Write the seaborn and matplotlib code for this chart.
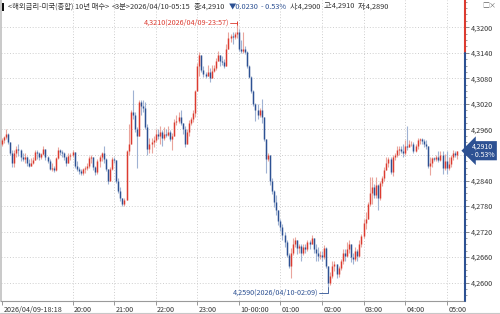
import numpy as np
import pandas as pd
import matplotlib
matplotlib.use("Agg")
import matplotlib.pyplot as plt
import matplotlib.transforms as mtransforms
from matplotlib.ticker import FixedLocator, MultipleLocator, FuncFormatter
from matplotlib.patches import Rectangle
from matplotlib.lines import Line2D
import seaborn as sns

# ---------------- data (3-minute bars, 2026/04/09 18:18 -> 2026/04/10 05:15) ----------------
first_open = 4.2925
prev_close = 4.3140

close = [
    4.2935, 4.2942, 4.2950, 4.2930, 4.2905, 4.2880, 4.2905, 4.2915, 4.2912, 4.2895,
    4.2890, 4.2895, 4.2880, 4.2875, 4.2880, 4.2888, 4.2908, 4.2905, 4.2895, 4.2902,
    4.2915, 4.2895, 4.2885, 4.2868, 4.2870, 4.2865, 4.2892, 4.2912, 4.2908, 4.2905,
    4.2895, 4.2880, 4.2898, 4.2900, 4.2908, 4.2875, 4.2868, 4.2862, 4.2858, 4.2866,
    4.2870, 4.2875, 4.2893, 4.2895, 4.2872, 4.2860, 4.2885, 4.2895, 4.2905, 4.2890,
    4.2868, 4.2840, 4.2868, 4.2890, 4.2888, 4.2840, 4.2815, 4.2800,
    4.2785, 4.2795, 4.2910, 4.2925, 4.3000, 4.2995, 4.2960, 4.2945, 4.3025, 4.3015,
    4.3010, 4.2965, 4.2915, 4.2925, 4.2930, 4.2935, 4.2950, 4.2945, 4.2955, 4.2940,
    4.2950, 4.2948, 4.2955, 4.2938, 4.2945, 4.2978, 4.2980, 4.2990, 4.2975, 4.2960,
    4.2925, 4.2955, 4.2975, 4.2985, 4.2998, 4.3050, 4.3110, 4.3135, 4.3100, 4.3090,
    4.3085, 4.3095, 4.3080, 4.3098, 4.3105, 4.3120, 4.3135, 4.3120, 4.3118, 4.3110,
    4.3150, 4.3175, 4.3180, 4.3178, 4.3185,
    4.3190, 4.3150, 4.3145, 4.3150, 4.3142, 4.3110, 4.3083, 4.3050, 4.3020, 4.3005,
    4.2995, 4.3005, 4.2990, 4.2938, 4.2890, 4.2900, 4.2840, 4.2815, 4.2790, 4.2770,
    4.2745, 4.2730, 4.2712, 4.2695, 4.2665, 4.2640, 4.2670, 4.2690, 4.2700, 4.2682,
    4.2686, 4.2670, 4.2685, 4.2680, 4.2695, 4.2692, 4.2705, 4.2680, 4.2670, 4.2662,
    4.2665, 4.2660, 4.2682, 4.2640, 4.2600, 4.2615, 4.2640, 4.2645, 4.2620, 4.2635,
    4.2650, 4.2670, 4.2662, 4.2680, 4.2690,
    4.2660, 4.2655, 4.2675, 4.2662, 4.2690, 4.2710, 4.2740, 4.2750, 4.2785, 4.2810,
    4.2825, 4.2805, 4.2830, 4.2800, 4.2835, 4.2845, 4.2865, 4.2880, 4.2890, 4.2860,
    4.2895, 4.2900, 4.2912, 4.2915, 4.2910, 4.2905, 4.2920, 4.2918, 4.2925, 4.2925,
    4.2910, 4.2920, 4.2935, 4.2938, 4.2932, 4.2925, 4.2920, 4.2875, 4.2880, 4.2892,
    4.2890, 4.2895, 4.2888, 4.2900, 4.2870, 4.2885, 4.2870, 4.2878, 4.2895, 4.2905,
    4.2900, 4.2910,
]

high = [
    4.2940, 4.2945, 4.2960, 4.2952, 4.2930, 4.2912, 4.2912, 4.2920, 4.2925, 4.2915,
    4.2905, 4.2905, 4.2898, 4.2890, 4.2892, 4.2895, 4.2912, 4.2912, 4.2908, 4.2905,
    4.2920, 4.2915, 4.2898, 4.2890, 4.2880, 4.2875, 4.2895, 4.2918, 4.2915, 4.2912,
    4.2908, 4.2898, 4.2905, 4.2905, 4.2912, 4.2908, 4.2885, 4.2872, 4.2868, 4.2870,
    4.2875, 4.2882, 4.2898, 4.2900, 4.2895, 4.2875, 4.2890, 4.2900, 4.2908, 4.2920,
    4.2892, 4.2868, 4.2872, 4.2895, 4.2895, 4.2880, 4.2845, 4.2825,
    4.2800, 4.2800, 4.2912, 4.2973, 4.3005, 4.3052, 4.3000, 4.2965, 4.3030, 4.3028,
    4.3028, 4.3025, 4.2972, 4.2940, 4.2940, 4.2945, 4.2962, 4.2962, 4.2968, 4.2958,
    4.2965, 4.2962, 4.2968, 4.2958, 4.2952, 4.2985, 4.2995, 4.3000, 4.3005, 4.2975,
    4.2968, 4.2960, 4.2982, 4.2990, 4.3005, 4.3052, 4.3115, 4.3142, 4.3135, 4.3110,
    4.3095, 4.3112, 4.3105, 4.3112, 4.3112, 4.3128, 4.3145, 4.3132, 4.3132, 4.3125,
    4.3160, 4.3188, 4.3185, 4.3188, 4.3190,
    4.3210, 4.3195, 4.3170, 4.3190, 4.3155, 4.3145, 4.3112, 4.3085, 4.3052, 4.3022,
    4.3020, 4.3010, 4.3032, 4.2985, 4.2915, 4.2905, 4.2900, 4.2845, 4.2818, 4.2805,
    4.2770, 4.2750, 4.2738, 4.2720, 4.2700, 4.2670, 4.2682, 4.2706, 4.2708, 4.2700,
    4.2692, 4.2690, 4.2692, 4.2690, 4.2700, 4.2700, 4.2712, 4.2705, 4.2690, 4.2685,
    4.2675, 4.2675, 4.2688, 4.2685, 4.2640, 4.2625, 4.2650, 4.2652, 4.2645, 4.2640,
    4.2655, 4.2680, 4.2680, 4.2695, 4.2700,
    4.2690, 4.2670, 4.2685, 4.2680, 4.2700, 4.2715, 4.2750, 4.2765, 4.2790, 4.2848,
    4.2848, 4.2832, 4.2848, 4.2832, 4.2840, 4.2850, 4.2872, 4.2895, 4.2895, 4.2895,
    4.2900, 4.2905, 4.2920, 4.2920, 4.2920, 4.2925, 4.2934, 4.2969, 4.2935, 4.2932,
    4.2930, 4.2925, 4.2940, 4.2940, 4.2940, 4.2938, 4.2935, 4.2920, 4.2895, 4.2895,
    4.2895, 4.2900, 4.2910, 4.2910, 4.2910, 4.2902, 4.2910, 4.2895, 4.2900, 4.2912,
    4.2910, 4.2910,
]

low = [
    4.2920, 4.2928, 4.2938, 4.2925, 4.2900, 4.2872, 4.2872, 4.2895, 4.2898, 4.2885,
    4.2885, 4.2880, 4.2875, 4.2872, 4.2875, 4.2878, 4.2888, 4.2890, 4.2888, 4.2890,
    4.2900, 4.2888, 4.2880, 4.2864, 4.2862, 4.2860, 4.2862, 4.2890, 4.2900, 4.2895,
    4.2888, 4.2875, 4.2880, 4.2888, 4.2895, 4.2870, 4.2862, 4.2855, 4.2853, 4.2852,
    4.2858, 4.2865, 4.2870, 4.2880, 4.2865, 4.2853, 4.2856, 4.2872, 4.2885, 4.2882,
    4.2862, 4.2832, 4.2840, 4.2865, 4.2880, 4.2835, 4.2810, 4.2792,
    4.2780, 4.2779, 4.2795, 4.2900, 4.2955, 4.2985, 4.2955, 4.2870, 4.2950, 4.2995,
    4.3000, 4.2960, 4.2900, 4.2905, 4.2905, 4.2918, 4.2930, 4.2938, 4.2925, 4.2920,
    4.2935, 4.2942, 4.2945, 4.2932, 4.2912, 4.2945, 4.2970, 4.2975, 4.2970, 4.2950,
    4.2918, 4.2925, 4.2945, 4.2970, 4.2978, 4.2990, 4.3060, 4.3085, 4.3095, 4.3082,
    4.3080, 4.3090, 4.3071, 4.3085, 4.3095, 4.3100, 4.3120, 4.3110, 4.3112, 4.3105,
    4.3125, 4.3150, 4.3165, 4.3160, 4.3172,
    4.3175, 4.3145, 4.3140, 4.3140, 4.3138, 4.3105, 4.3080, 4.3045, 4.3015, 4.2980,
    4.2985, 4.2990, 4.2975, 4.2932, 4.2858, 4.2885, 4.2830, 4.2808, 4.2778, 4.2760,
    4.2735, 4.2722, 4.2700, 4.2685, 4.2660, 4.2635, 4.2612, 4.2665, 4.2685, 4.2668,
    4.2670, 4.2652, 4.2665, 4.2670, 4.2675, 4.2680, 4.2690, 4.2670, 4.2650, 4.2652,
    4.2655, 4.2652, 4.2655, 4.2635, 4.2590, 4.2595, 4.2610, 4.2628, 4.2612, 4.2613,
    4.2630, 4.2645, 4.2650, 4.2660, 4.2670,
    4.2648, 4.2645, 4.2650, 4.2652, 4.2660, 4.2685, 4.2705, 4.2725, 4.2750, 4.2780,
    4.2785, 4.2800, 4.2800, 4.2770, 4.2795, 4.2828, 4.2840, 4.2865, 4.2872, 4.2856,
    4.2850, 4.2888, 4.2895, 4.2900, 4.2905, 4.2895, 4.2900, 4.2912, 4.2918, 4.2920,
    4.2905, 4.2908, 4.2915, 4.2925, 4.2925, 4.2918, 4.2915, 4.2870, 4.2852, 4.2872,
    4.2885, 4.2885, 4.2883, 4.2885, 4.2856, 4.2865, 4.2856, 4.2865, 4.2872, 4.2888,
    4.2895, 4.2890,
]

x_tick_bars = [0, 34, 54, 74, 94, 114, 134, 154, 174, 194, 214]
x_tick_labels = ["2026/04/09-18:18", "20:00", "21:00", "22:00", "23:00", "10-00:00",
                 "01:00", "02:00", "03:00", "04:00", "05:00"]
y_ticks = [4.2600, 4.2660, 4.2720, 4.2780, 4.2840, 4.2900, 4.2960, 4.3020, 4.3080, 4.3140, 4.3200]

hi_bar, hi_val, hi_text = 113, 4.3210, "4,3210(2026/04/09-23:57)"
lo_bar, lo_val, lo_text = 157, 4.2590, "4,2590(2026/04/10-02:09)"
last_val = 4.2910
last_label = "4,2910\n- 0.53%"

title_parts = [
    ("<해외금리-미국(종합) 10년 매수>", "dark"),
    ("<3분>2026/04/10-05:15", "dark"),
    ("종:4,2910", "dark"),
    ("▼0.0230", "blue"),
    ("- 0.53%", "blue"),
    ("시:4,2900", "dark"),
    ("고:4,2910", "dark"),
    ("저:4,2890", "dark"),
]

# ---------------- styling ----------------
sns.set_theme(style="white")
plt.rcParams['font.family'] = ['Noto Sans CJK KR', 'DejaVu Sans']

RED = "#dc3b30"
BLUE = "#2d5193"
RED_W = "#eaa59d"
BLUE_W = "#9fb2d3"
GRID = "#c8c8c8"
TXT = "#333333"

df = pd.DataFrame({"close": close, "high": high, "low": low})
df["open"] = df["close"].shift(1).fillna(first_open)
df["bar"] = np.arange(len(df))
df["up"] = df["close"] >= df["open"]

fig = plt.figure(figsize=(5.0, 3.14), dpi=100)
ax = fig.add_axes([0.002, 1 - 301 / 314, 0.928, 301 / 314])
ax.set_facecolor("white")

ax.set_xlim(-0.4, 222.8)
ax.set_ylim(4.2557, 4.3264)

# grid
for b in x_tick_bars[1:]:
    ax.axvline(b, color=GRID, lw=0.6, ls=(0, (1.2, 2.2)), zorder=0)
for v in y_ticks:
    ax.axhline(v, color=GRID, lw=0.6, ls=(0, (1.2, 2.2)), zorder=0)

# candles
wick_lo = np.minimum(df["low"], np.minimum(df["open"], df["close"]))
wick_hi = np.maximum(df["high"], np.maximum(df["open"], df["close"]))
body_lo = np.minimum(df["open"], df["close"])
body_hi = np.maximum(df["open"], df["close"])
body_hi = np.where(body_hi - body_lo < 0.00008, body_lo + 0.00008, body_hi)
colors_w = np.where(df["up"], RED_W, BLUE_W)
colors_b = np.where(df["up"], RED, BLUE)
ax.vlines(df["bar"], wick_lo, wick_hi, colors=colors_w, lw=0.8, zorder=2)
ax.vlines(df["bar"], body_lo, body_hi, colors=colors_b, lw=1.05, zorder=3)

# spines
for s in ["top", "right"]:
    ax.spines[s].set_visible(False)
ax.spines["left"].set_color("#c0c0c0")
ax.spines["left"].set_linewidth(1.2)
ax.spines["bottom"].set_color("#9a9a9a")
ax.spines["bottom"].set_linewidth(0.8)

# right axis line: red above previous close, blue below
xr = ax.get_xlim()[1]
ax.plot([xr, xr], [prev_close, ax.get_ylim()[1]], color=RED, lw=1.5, clip_on=False, zorder=5)
ax.plot([xr, xr], [ax.get_ylim()[0], prev_close], color=BLUE, lw=1.5, clip_on=False, zorder=5)

# y axis ticks on right (label near the current price is covered by the price box)
def yfmt(v, p):
    if abs(v - 4.2900) < 1e-6:
        return ""
    return f"{v:.4f}".replace(".", ",")

ax.yaxis.tick_right()
ax.yaxis.set_major_locator(FixedLocator(y_ticks))
ax.yaxis.set_minor_locator(MultipleLocator(0.0015))
ax.yaxis.set_major_formatter(FuncFormatter(yfmt))
ax.tick_params(axis="y", which="major", direction="out", length=3, width=0.6,
               color="#777777", labelsize=5.2, labelcolor=TXT, pad=1.5, right=True, left=False)
ax.tick_params(axis="y", which="minor", direction="out", length=1.5, width=0.5,
               color="#777777", right=True, left=False)

# x axis ticks
ax.set_xticks(x_tick_bars)
ax.set_xticklabels(x_tick_labels)
ax.tick_params(axis="x", direction="out", length=3, width=0.6, color="#888888",
               labelsize=5.2, labelcolor=TXT, pad=0.3, bottom=True)
offset = mtransforms.ScaledTranslation(1.5 / 100, 0, fig.dpi_scale_trans)
for lbl in ax.get_xticklabels():
    lbl.set_ha("left")
    lbl.set_transform(lbl.get_transform() + offset)
ax.grid(False)

# high / low annotations
ax.text(109.6, hi_val, hi_text, color=RED, fontsize=5.2,
        ha="right", va="center", zorder=6)
ax.plot([109.8, hi_bar], [hi_val, hi_val], color=RED, lw=0.6, zorder=6)
ax.plot([hi_bar], [hi_val], marker="|", ms=3, mew=0.7, color=RED, zorder=6)

lo_y_text = 4.2576
ax.text(152.3, lo_y_text, lo_text, color=BLUE, fontsize=5.2,
        ha="right", va="center", zorder=6)
ax.plot([152.6, lo_bar, lo_bar], [lo_y_text, lo_y_text, lo_val - 0.0001],
        color=BLUE, lw=0.6, zorder=6, clip_on=False)

# current price label
trans = mtransforms.blended_transform_factory(ax.transAxes, ax.transData)
ax.text(1.014, last_val, last_label, transform=trans, ha="left", va="center",
        color="white", fontsize=5.0, linespacing=0.95, zorder=7, clip_on=False,
        bbox=dict(boxstyle="larrow,pad=0.25", fc=BLUE, ec="none"))

# title bar (pieces chained left to right)
fig.patches.append(Rectangle((2 / 500, 1 - 11 / 314), 2 / 500, 8 / 314,
                             transform=fig.transFigure, fc="#111111", ec="none"))
ty = 1 - 7 / 314
prev = None
for s, c in title_parts:
    col = BLUE if c == "blue" else TXT
    if prev is None:
        prev = fig.text(8 / 500, ty, s, fontsize=5.3, color=col, va="center", ha="left")
    else:
        prev = ax.annotate(s, xy=(1, 0.5), xycoords=prev, xytext=(3, 0),
                           textcoords="offset pixels", va="center", ha="left",
                           fontsize=5.3, color=col, annotation_clip=False)
fig.text(0.992, 1 - 6 / 314, "□×", fontsize=5, color="#666666", ha="right", va="center")

# bottom border
fig.add_artist(Line2D([0, 1], [1.5 / 314, 1.5 / 314], transform=fig.transFigure,
                      color="#c8c8c8", lw=0.8))

fig.savefig("out.png", dpi=100, facecolor="white")
